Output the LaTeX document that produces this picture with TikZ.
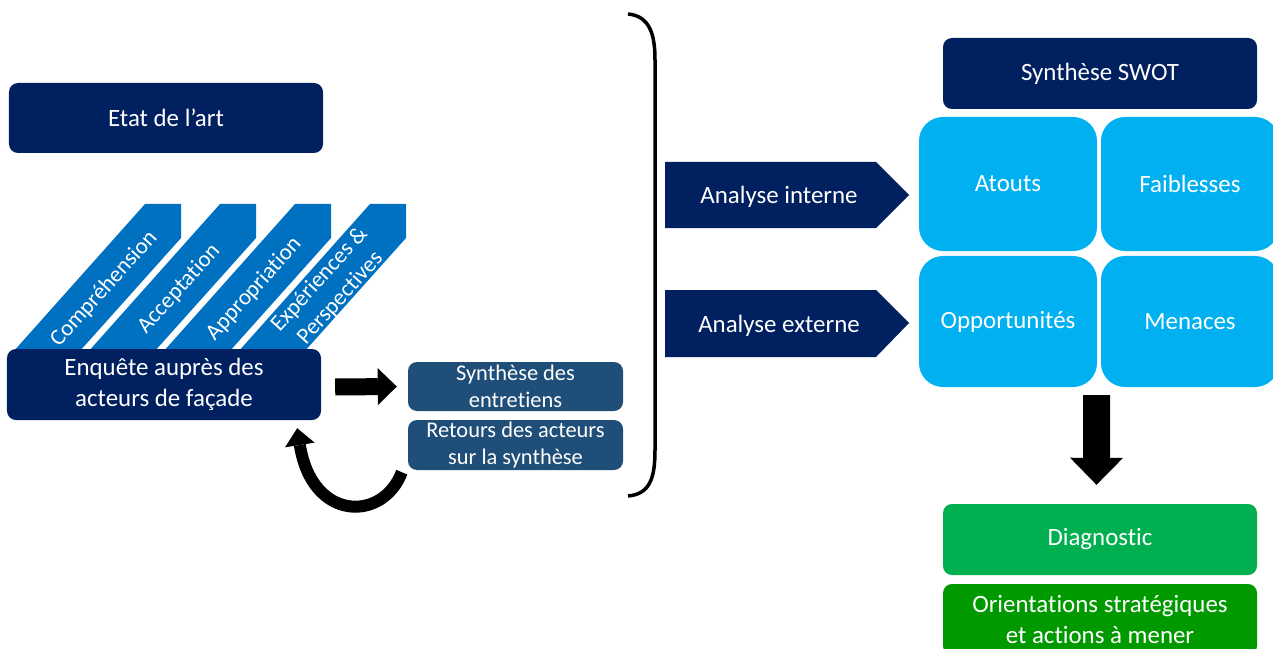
\documentclass[tikz,border=0pt]{standalone}
\usepackage{fontspec}
\setmainfont{Carlito}[Ligatures={NoCommon}]
\usetikzlibrary{arrows.meta,calc}
\definecolor{navy}{HTML}{002060}
\definecolor{midblue}{HTML}{0070C0}
\definecolor{lightblue}{HTML}{00B0F0}
\definecolor{slate}{HTML}{1F4E79}
\definecolor{greenA}{HTML}{00B050}
\definecolor{greenB}{HTML}{009A00}
\begin{document}
\begin{tikzpicture}[x=1bp,y=-1bp,
  box/.style={rounded corners=9bp, inner sep=0pt, text=white, align=center,
    font=\fontsize{25}{31}\selectfont},
  smallbox/.style={box, font=\fontsize{22.5}{27.5}\selectfont},
  swot/.style={box, rounded corners=24bp, fill=lightblue},
  lbl/.style={text=white, align=center, inner sep=0pt, font=\fontsize{25}{31}\selectfont},
  bandlbl/.style={text=white, align=center, inner sep=0pt, rotate=48, font=\fontsize{23}{28}\selectfont},
  blockarrow/.style={draw=black}]
\useasboundingbox (0,0) rectangle (1273,649);
\clip (0,0) rectangle (1273,649);

% Etat de l'art
\node[box, fill=navy, minimum width=314bp, minimum height=70bp] (etat) at (166,118) {\raisebox{-1.5bp}{Etat de l’art}};

% diagonal bands
\foreach \s in {0,75,150,225}{
  \fill[midblue] (13+\s,352) -- (145+\s,204) -- (181+\s,204) -- (181+\s,238) -- (79+\s,352) -- cycle;
}
\node[bandlbl] (b1) at (104,289) {Compréhension};
\node[bandlbl] (b2) at (179,289) {Acceptation};
\node[bandlbl] (b3) at (254,289) {Appropriation};
\node[bandlbl] (b4) at (330,289) {Expériences \&\\Perspectives};

% Enquête
\node[box, fill=navy, minimum width=314bp, minimum height=71bp] (enq) at (164,384.5) {\raisebox{-2bp}{\parbox{300bp}{\centering Enquête auprès des\\acteurs de façade}}};

% synthesis boxes
\node[smallbox, fill=slate, minimum width=215bp, minimum height=49bp] (syn) at (515.5,386.5) {\raisebox{-1.5bp}{\parbox{210bp}{\centering Synthèse des\\entretiens}}};
\node[smallbox, fill=slate, minimum width=215bp, minimum height=50bp] (ret) at (515.5,445) {\raisebox{-1.5bp}{\parbox{210bp}{\centering Retours des acteurs\\sur la synthèse}}};

% block arrow right
\draw[blockarrow, line width=17bp, -{Triangle[width=37bp,length=19bp,line width=0pt]}]
  ($(enq.east)+(14,2.5)$) -- ($(syn.west)+(-11,0)$);

% curved return arrow
\draw[blockarrow, line width=12bp, -{Triangle[width=30bp,length=17bp,line width=0pt]}]
  ($(ret.south west)+(-6,2)$) .. controls (383,522) and (312,522) .. ($(enq.south east)+(-24,8)$);

% bracket
\draw[line width=3.5bp] (628,14) .. controls (650,16) and (655,35) .. (655,60) -- (655,450)
  .. controls (655,478) and (650,494) .. (628,496);

% Analyse arrows
\fill[navy] (665,162) -- (876,162) -- (909,195) -- (876,228) -- (665,228) -- cycle;
\node[lbl] (ai) at (779,197) {Analyse interne};
\fill[navy] (665,290) -- (876,290) -- (909,323) -- (876,357) -- (665,357) -- cycle;
\node[lbl] (ae) at (779,325.5) {Analyse externe};

% SWOT
\node[box, fill=navy, minimum width=314bp, minimum height=71bp] (swotT) at (1100,73.5) {\raisebox{-2bp}{Synthèse SWOT}};
\node[swot, minimum width=178bp, minimum height=134bp] (at) at (1008,184) {\raisebox{-2bp}{Atouts}};
\node[swot, minimum width=178bp, minimum height=134bp] (fa) at (1190,184) {\raisebox{-2bp}{Faiblesses}};
\node[swot, minimum width=178bp, minimum height=131bp] (op) at (1008,321.5) {\raisebox{-2bp}{Opportunités}};
\node[swot, minimum width=178bp, minimum height=131bp] (me) at (1190,321.5) {\raisebox{-2bp}{Menaces}};

% Diagnostic
\node[box, fill=greenA, minimum width=314bp, minimum height=71bp] (diag) at (1100,539.5) {\raisebox{-2bp}{Diagnostic}};
\node[box, fill=greenB, minimum width=314bp, minimum height=71bp] (orient) at (1100,619.5) {\raisebox{-2bp}{\parbox{300bp}{\centering Orientations stratégiques\\et actions à mener}}};

% down arrow
\draw[blockarrow, line width=27bp, -{Triangle[width=53bp,length=27bp,line width=0pt]}]
  ($(op.south east)+(-0.5,8)$) -- ($(diag.north)+(-3.5,-19)$);
\end{tikzpicture}
\end{document}
